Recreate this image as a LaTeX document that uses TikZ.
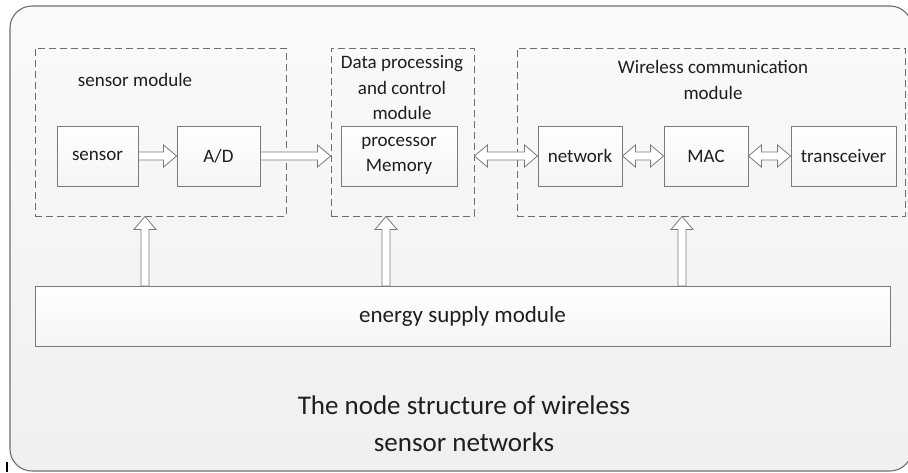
\documentclass[tikz,border=0pt]{standalone}
\usepackage{fontspec}
\setmainfont{Carlito}
\usetikzlibrary{calc,shadows}
\definecolor{edge}{HTML}{7A7A7A}
\definecolor{dashc}{HTML}{6E6E6E}
\definecolor{txt}{HTML}{1E1E1E}
\tikzset{
  box/.style={draw=edge, line width=0.9pt, top color=white, bottom color=black!4,
    text=txt, font=\fontsize{19}{25}\selectfont, align=center, inner sep=0pt,
    minimum height=60pt, drop shadow={shadow xshift=1.2pt, shadow yshift=-1.2pt, opacity=0.25}},
  modbox/.style={draw=dashc, dash pattern=on 7pt off 4pt, line width=0.9pt, inner sep=0pt},
  lbl/.style={text=txt, font=\fontsize{19}{25.5}\selectfont, align=center, inner sep=0pt},
  fat/.style={draw=edge, line width=0.8pt, fill=white, line join=miter},
}
% fat arrow to the right
\newcommand\myfatR[2]{\draw[fat] let \p1=(#1), \p2=(#2) in
  (\x1,\y1+4pt) -- (\x2-13pt,\y1+4pt) -- (\x2-13pt,\y1+11pt) -- (\x2,\y1)
  -- (\x2-13pt,\y1-11pt) -- (\x2-13pt,\y1-4pt) -- (\x1,\y1-4pt) -- cycle;}
% fat double arrow (left-right)
\newcommand\myfatLR[2]{\draw[fat] let \p1=(#1), \p2=(#2) in
  (\x1,\y1) -- (\x1+13pt,\y1+11pt) -- (\x1+13pt,\y1+4pt) -- (\x2-13pt,\y1+4pt)
  -- (\x2-13pt,\y1+11pt) -- (\x2,\y1) -- (\x2-13pt,\y1-11pt) -- (\x2-13pt,\y1-4pt)
  -- (\x1+13pt,\y1-4pt) -- (\x1+13pt,\y1-11pt) -- cycle;}
% fat arrow upward
\newcommand\myfatU[2]{\draw[fat] let \p1=(#1), \p2=(#2) in
  (\x1-4pt,\y1) -- (\x1-4pt,\y2-13pt) -- (\x1-11pt,\y2-13pt) -- (\x1,\y2)
  -- (\x1+11pt,\y2-13pt) -- (\x1+4pt,\y2-13pt) -- (\x1+4pt,\y1) -- cycle;}
\begin{document}
\begin{tikzpicture}[x=1pt,y=-1pt]
\useasboundingbox (0,0) rectangle (908,472);
\fill[white] (0,0) rectangle (908,472);
% outer frame
\draw[draw=edge!90!black, line width=1.1pt, rounded corners=22pt, top color=black!2, bottom color=black!6]
  (10,6) rectangle (912,471);
\draw[line width=2pt, black] (7,462) -- (7,472);

% module frames
\node[modbox, minimum width=251pt, minimum height=168pt] (sm) at (160.5,132) {};
\node[modbox, minimum width=143pt, minimum height=168pt] (dp) at (402.5,132) {};
\node[modbox, minimum width=388pt, minimum height=168pt] (wc) at (711,132) {};

% labels
\node[lbl] (smlabel) at (135,80) {sensor module};
\node[lbl] (dplabel) at (402,88) {Data processing\\and control\\module};
\node[lbl] (wclabel) at (713,80) {Wireless communication\\module};

% inner boxes
\node[box, minimum width=81pt]  (sensor) at (97.5,156) {sensor};
\node[box, minimum width=83pt]  (ad)     at (218.5,156) {A/D};
\node[box, minimum width=116pt] (proc)   at (399,156) {processor\\Memory};
\node[box, minimum width=84pt]  (net)    at (580,156) {network};
\node[box, minimum width=84pt]  (mac)    at (706,156) {MAC};
\node[box, minimum width=105pt] (trans)  at (843.5,156) {transceiver};
\node[box, minimum width=855pt, font=\fontsize{23}{28}\selectfont] (energy) at (462.5,316) {energy supply module};

% horizontal arrows
\myfatR{sensor.east}{ad.west}
\myfatR{ad.east}{dp.west}
\myfatLR{proc.east -| dp.east}{net.west}
\myfatLR{net.east}{mac.west}
\myfatLR{mac.east}{trans.west}

% vertical arrows
\coordinate (e1) at (145,286);
\coordinate (e2) at (386,286);
\coordinate (e3) at (682,286);
\myfatU{e1}{e1 |- sm.south}
\myfatU{e2}{e2 |- dp.south}
\myfatU{e3}{e3 |- wc.south}

% caption
\node[text=txt, font=\fontsize{27}{37}\selectfont, align=center, inner sep=0pt] (caption) at (464,424)
  {The node structure of wireless\\sensor networks};
\end{tikzpicture}
\end{document}
